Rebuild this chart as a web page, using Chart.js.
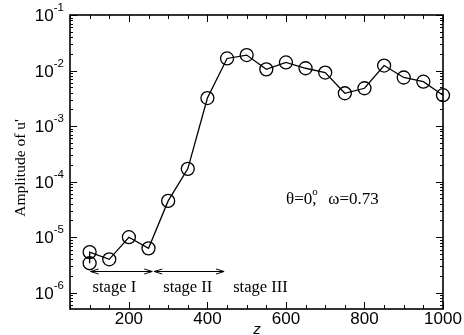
<!DOCTYPE html>
<html>
<head>
<meta charset="utf-8">
<script src="https://cdn.jsdelivr.net/npm/chart.js@4/dist/chart.umd.min.js"></script>
<style>
  html, body { margin: 0; padding: 0; background: #fff; }
  #wrap { width: 464px; height: 335px; position: relative; }
</style>
</head>
<body>
<div id="wrap"><canvas id="chart"></canvas></div>
<script>
// z positions and amplitude of u'
var zValues = [100, 100, 150, 200, 250, 300, 350, 400, 450, 500, 550, 600, 650, 700, 750, 800, 850, 900, 950, 1000];
var ampValues = [3.4e-6, 5.4e-6, 4.0e-6, 1.0e-5, 6.3e-6, 4.5e-5, 1.7e-4, 3.2e-3, 1.65e-2, 1.9e-2, 1.05e-2, 1.4e-2, 1.1e-2, 9.2e-3, 3.9e-3, 4.8e-3, 1.23e-2, 7.5e-3, 6.3e-3, 3.6e-3];

var xTicks = [200, 400, 600, 800, 1000];
var yExponents = [-6, -5, -4, -3, -2, -1];

// stage arrows: [from z, to z], drawn at amplitude arrowLevel
var stageArrows = [[100, 262], [262, 445]];
var arrowLevel = 2.5e-6;
var stageLabels = ['stage I', 'stage II', 'stage III'];
var stageLabelZ = [163, 350, 535];
var stageLabelLevel = 1.25e-6;

var points = zValues.map(function (z, i) { return { x: z, y: ampValues[i] }; });

var framePlugin = {
  id: 'frame',
  afterDraw: function (chart) {
    var ctx = chart.ctx;
    var a = chart.chartArea;
    var xs = chart.scales.x, ys = chart.scales.y;
    ctx.save();
    ctx.strokeStyle = '#000';
    ctx.fillStyle = '#000';

    // frame
    ctx.lineWidth = 1.6;
    ctx.strokeRect(a.left, a.top, a.right - a.left, a.bottom - a.top);

    // x ticks (major every 200, minor every 50), mirrored on top
    ctx.lineWidth = 1;
    for (var v = 50; v <= 1000; v += 50) {
      var px = Math.round(xs.getPixelForValue(v)) + 0.5;
      var len = (v % 200 === 0) ? 7 : 4;
      ctx.beginPath();
      ctx.moveTo(px, a.bottom); ctx.lineTo(px, a.bottom - len);
      ctx.moveTo(px, a.top); ctx.lineTo(px, a.top + len);
      ctx.stroke();
    }

    // y ticks (decades major, 2..9 minor), mirrored on right
    for (var e = -7; e <= -1; e++) {
      for (var m = 1; m <= 9; m++) {
        var val = m * Math.pow(10, e);
        if (val < ys.min || val > ys.max) continue;
        var py = Math.round(ys.getPixelForValue(val)) + 0.5;
        var l = (m === 1) ? 7 : 3;
        ctx.beginPath();
        ctx.moveTo(a.left, py); ctx.lineTo(a.left + l, py);
        ctx.moveTo(a.right, py); ctx.lineTo(a.right - l, py);
        ctx.stroke();
      }
    }

    // x tick labels
    ctx.font = '17px "Liberation Sans", Arial, sans-serif';
    ctx.textAlign = 'center';
    ctx.textBaseline = 'top';
    xTicks.forEach(function (t) {
      ctx.fillText(String(t), xs.getPixelForValue(t), a.bottom + 2);
    });

    // y tick labels: 10 with superscript exponent
    yExponents.forEach(function (ex) {
      var py = ys.getPixelForValue(Math.pow(10, ex));
      ctx.font = '11.5px "Liberation Sans", Arial, sans-serif';
      var sup = String(ex);
      var supW = ctx.measureText(sup).width;
      var rightEdge = a.left - 6;
      ctx.textAlign = 'left';
      ctx.textBaseline = 'alphabetic';
      ctx.fillText(sup, rightEdge - supW, py - 4);
      ctx.font = '17px "Liberation Sans", Arial, sans-serif';
      var baseW = ctx.measureText('10').width;
      ctx.fillText('10', rightEdge - supW - baseW, py + 6);
    });

    // axis titles
    ctx.font = 'italic 15px "Liberation Sans", Arial, sans-serif';
    ctx.textAlign = 'center';
    ctx.textBaseline = 'alphabetic';
    ctx.fillText('z', 257, 334);

    ctx.save();
    ctx.translate(25, 168);
    ctx.rotate(-Math.PI / 2);
    ctx.font = '15.5px "Liberation Serif", "Times New Roman", serif';
    ctx.textBaseline = 'alphabetic';
    ctx.fillText("Amplitude of u'", 0, 0);
    ctx.restore();

    // stage arrows
    var ay = Math.round(ys.getPixelForValue(arrowLevel)) + 0.5;
    ctx.lineWidth = 1;
    stageArrows.forEach(function (s) {
      var x1 = xs.getPixelForValue(s[0]) + 1, x2 = xs.getPixelForValue(s[1]) - 1;
      ctx.beginPath();
      ctx.moveTo(x1, ay); ctx.lineTo(x2, ay);
      ctx.moveTo(x1 + 8, ay - 2.5); ctx.lineTo(x1, ay); ctx.lineTo(x1 + 8, ay + 2.5);
      ctx.moveTo(x2 - 8, ay - 2.5); ctx.lineTo(x2, ay); ctx.lineTo(x2 - 8, ay + 2.5);
      ctx.stroke();
    });

    // stage labels
    ctx.font = '16.5px "Liberation Serif", "Times New Roman", serif';
    ctx.textAlign = 'center';
    ctx.textBaseline = 'middle';
    var ly = ys.getPixelForValue(stageLabelLevel);
    stageLabels.forEach(function (txt, i) {
      ctx.fillText(txt, xs.getPixelForValue(stageLabelZ[i]), ly);
    });

    // parameter note
    ctx.textAlign = 'left';
    ctx.font = '17px "Liberation Serif", "Times New Roman", serif';
    var nx = 286, ny = 204;
    ctx.textBaseline = 'alphabetic';
    ctx.fillText('\u03b8=0', nx, ny);
    var w1 = ctx.measureText('\u03b8=0').width;
    ctx.font = '11px "Liberation Serif", "Times New Roman", serif';
    ctx.fillText('o', nx + w1, ny - 9);
    ctx.font = '17px "Liberation Serif", "Times New Roman", serif';
    ctx.fillText(',', nx + w1, ny);
    ctx.fillText('\u03c9=0.73', nx + w1 + 16, ny);

    ctx.restore();
  }
};

new Chart(document.getElementById('chart'), {
  type: 'scatter',
  data: {
    datasets: [{
      data: points,
      showLine: true,
      borderColor: '#000',
      borderWidth: 1.3,
      pointStyle: 'circle',
      pointRadius: 6.5,
      pointBorderWidth: 1.3,
      pointBorderColor: '#000',
      pointBackgroundColor: 'rgba(0,0,0,0)',
      tension: 0,
      clip: false
    }]
  },
  options: {
    responsive: true,
    maintainAspectRatio: false,
    animation: false,
    layout: { autoPadding: false, padding: { left: 70, top: 15, right: 21, bottom: 26 } },
    plugins: { legend: { display: false }, tooltip: { enabled: false } },
    scales: {
      x: { type: 'linear', min: 50, max: 1000, display: false },
      y: { type: 'logarithmic', min: 5.1e-7, max: 0.1, display: false }
    }
  },
  plugins: [framePlugin]
});
</script>
</body>
</html>
